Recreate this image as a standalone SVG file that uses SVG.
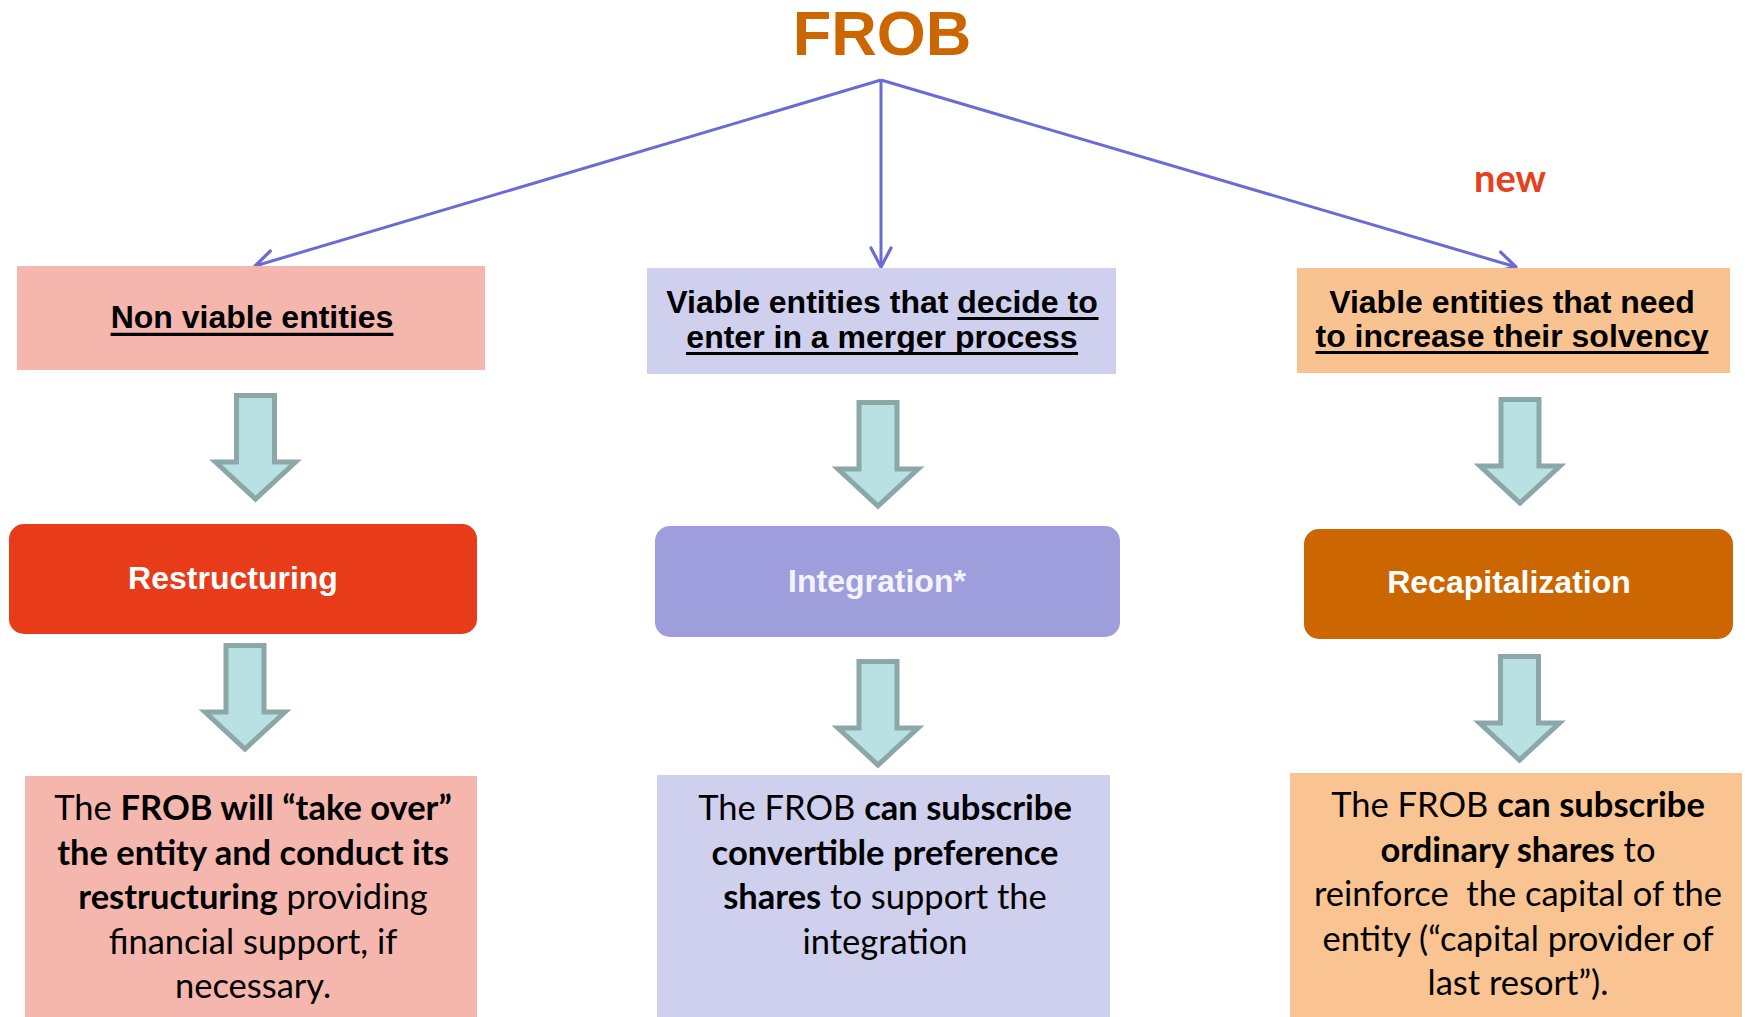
<svg xmlns="http://www.w3.org/2000/svg" xmlns:xlink="http://www.w3.org/1999/xlink" width="1745" height="1017" viewBox="0 0 1745 1017">
<style>
.hd{font-family:"Liberation Sans",Arial,sans-serif;font-weight:bold;font-size:32px;fill:#000;text-anchor:middle}
.ul{stroke:#000;stroke-width:3.2}
.mid{font-family:"Liberation Sans",Arial,sans-serif;font-weight:bold;font-size:32px;text-anchor:middle}
.body{font-family:Lato,"Open Sans",sans-serif;font-size:34.5px;fill:#000;text-anchor:middle}
.b{font-weight:bold}
.conn{stroke:#6B6BD6;stroke-width:3;fill:none;marker-end:url(#chev)}
.blk{fill:#B9E0E2;stroke:#8BA7A8;stroke-width:5;stroke-linejoin:miter}
</style>
<defs>
<marker id="chev" markerUnits="userSpaceOnUse" viewBox="-24 -14 28 28" refX="0" refY="0" markerWidth="28" markerHeight="28" orient="auto">
<path d="M-19,-10 L0,0 L-19,10" fill="none" stroke="#6B6BD6" stroke-width="3.2" stroke-linecap="round" stroke-linejoin="round"/>
</marker>
<path id="blkarrow" class="blk" d="M-19,2.5 H19 V69 H40 L0,106 L-40,69 H-19 Z"/>
</defs>
<rect width="1745" height="1017" fill="#fff"/>
<g id="title">
<text x="882" y="55" font-family="Liberation Sans,Arial,sans-serif" font-weight="bold" font-size="63" fill="#CC6600" text-anchor="middle">FROB</text>
</g>
<g id="connectors">
<line class="conn" x1="881" y1="80" x2="255" y2="266"/>
<line class="conn" x1="881" y1="80" x2="881" y2="267"/>
<line class="conn" x1="881" y1="80" x2="1516" y2="267"/>
</g>
<g id="label-new">
<text x="1510" y="192" font-family="Lato,sans-serif" font-weight="bold" font-size="38" fill="#E8401C" text-anchor="middle">new</text>
</g>
<g id="node-nonviable">
<rect x="17" y="266" width="468" height="104" fill="#F5B7AD"/>
<text class="hd" x="252" y="328">Non viable entities</text>
<line class="ul" x1="110.6" y1="334.3" x2="393.4" y2="334.3"/>
</g>
<g id="node-merger">
<rect x="647" y="268" width="469" height="106" fill="#CFCFEE"/>
<text class="hd" x="882" y="313">Viable entities that decide to</text>
<line class="ul" x1="957.5" y1="318.5" x2="1098.5" y2="318.5"/>
<text class="hd" x="882" y="348">enter in a merger process</text>
<line class="ul" x1="686" y1="353.5" x2="1078" y2="353.5"/>
</g>
<g id="node-solvency">
<rect x="1297" y="268" width="433" height="105" fill="#F9C391"/>
<text class="hd" x="1512" y="313">Viable entities that need</text>
<text class="hd" x="1512" y="347">to increase their solvency</text>
<line class="ul" x1="1315.5" y1="352.5" x2="1708.5" y2="352.5"/>
</g>
<g id="block-arrows">
<use xlink:href="#blkarrow" href="#blkarrow" x="255.5" y="393"/>
<use xlink:href="#blkarrow" href="#blkarrow" x="245" y="643"/>
<use xlink:href="#blkarrow" href="#blkarrow" x="878" y="400"/>
<use xlink:href="#blkarrow" href="#blkarrow" x="878" y="659"/>
<use xlink:href="#blkarrow" href="#blkarrow" x="1520" y="397"/>
<use xlink:href="#blkarrow" href="#blkarrow" x="1519.5" y="654"/>
</g>
<g id="node-restructuring">
<rect x="9" y="524" width="468" height="110" rx="15" fill="#E83B1A"/>
<text class="mid" x="233" y="589" fill="#fff">Restructuring</text>
</g>
<g id="node-integration">
<rect x="655" y="526" width="465" height="111" rx="15" fill="#9F9EDD"/>
<text class="mid" x="877" y="592" fill="#F4F4FF">Integration*</text>
</g>
<g id="node-recap">
<rect x="1304" y="529" width="429" height="110" rx="15" fill="#CC6600"/>
<text class="mid" x="1509" y="593" fill="#fff">Recapitalization</text>
</g>
<g id="node-restructuring-detail">
<rect x="25" y="776" width="452" height="241" fill="#F5B7AD"/>
<text class="body" x="253" y="820">The <tspan class="b">FROB will “take over”</tspan></text>
<text class="body b" x="253" y="864.5">the entity and conduct its</text>
<text class="body" x="253" y="909"><tspan class="b">restructuring</tspan> providing</text>
<text class="body" x="253" y="953.5">financial support, if</text>
<text class="body" x="253" y="998">necessary.</text>
</g>
<g id="node-integration-detail">
<rect x="657" y="775" width="453" height="242" fill="#CFCFEE"/>
<text class="body" x="885" y="820">The FROB <tspan class="b">can subscribe</tspan></text>
<text class="body b" x="885" y="864.5">convertible preference</text>
<text class="body" x="885" y="909"><tspan class="b">shares</tspan> to support the</text>
<text class="body" x="885" y="953.5">integration</text>
</g>
<g id="node-recap-detail">
<rect x="1290" y="773" width="452" height="244" fill="#F9C491"/>
<text class="body" x="1518" y="817">The FROB <tspan class="b">can subscribe</tspan></text>
<text class="body" x="1518" y="861.5"><tspan class="b">ordinary shares</tspan> to</text>
<text class="body" x="1518" y="906" xml:space="preserve">reinforce  the capital of the</text>
<text class="body" x="1518" y="950.5">entity (“capital provider of</text>
<text class="body" x="1518" y="995">last resort”).</text>
</g>
</svg>
